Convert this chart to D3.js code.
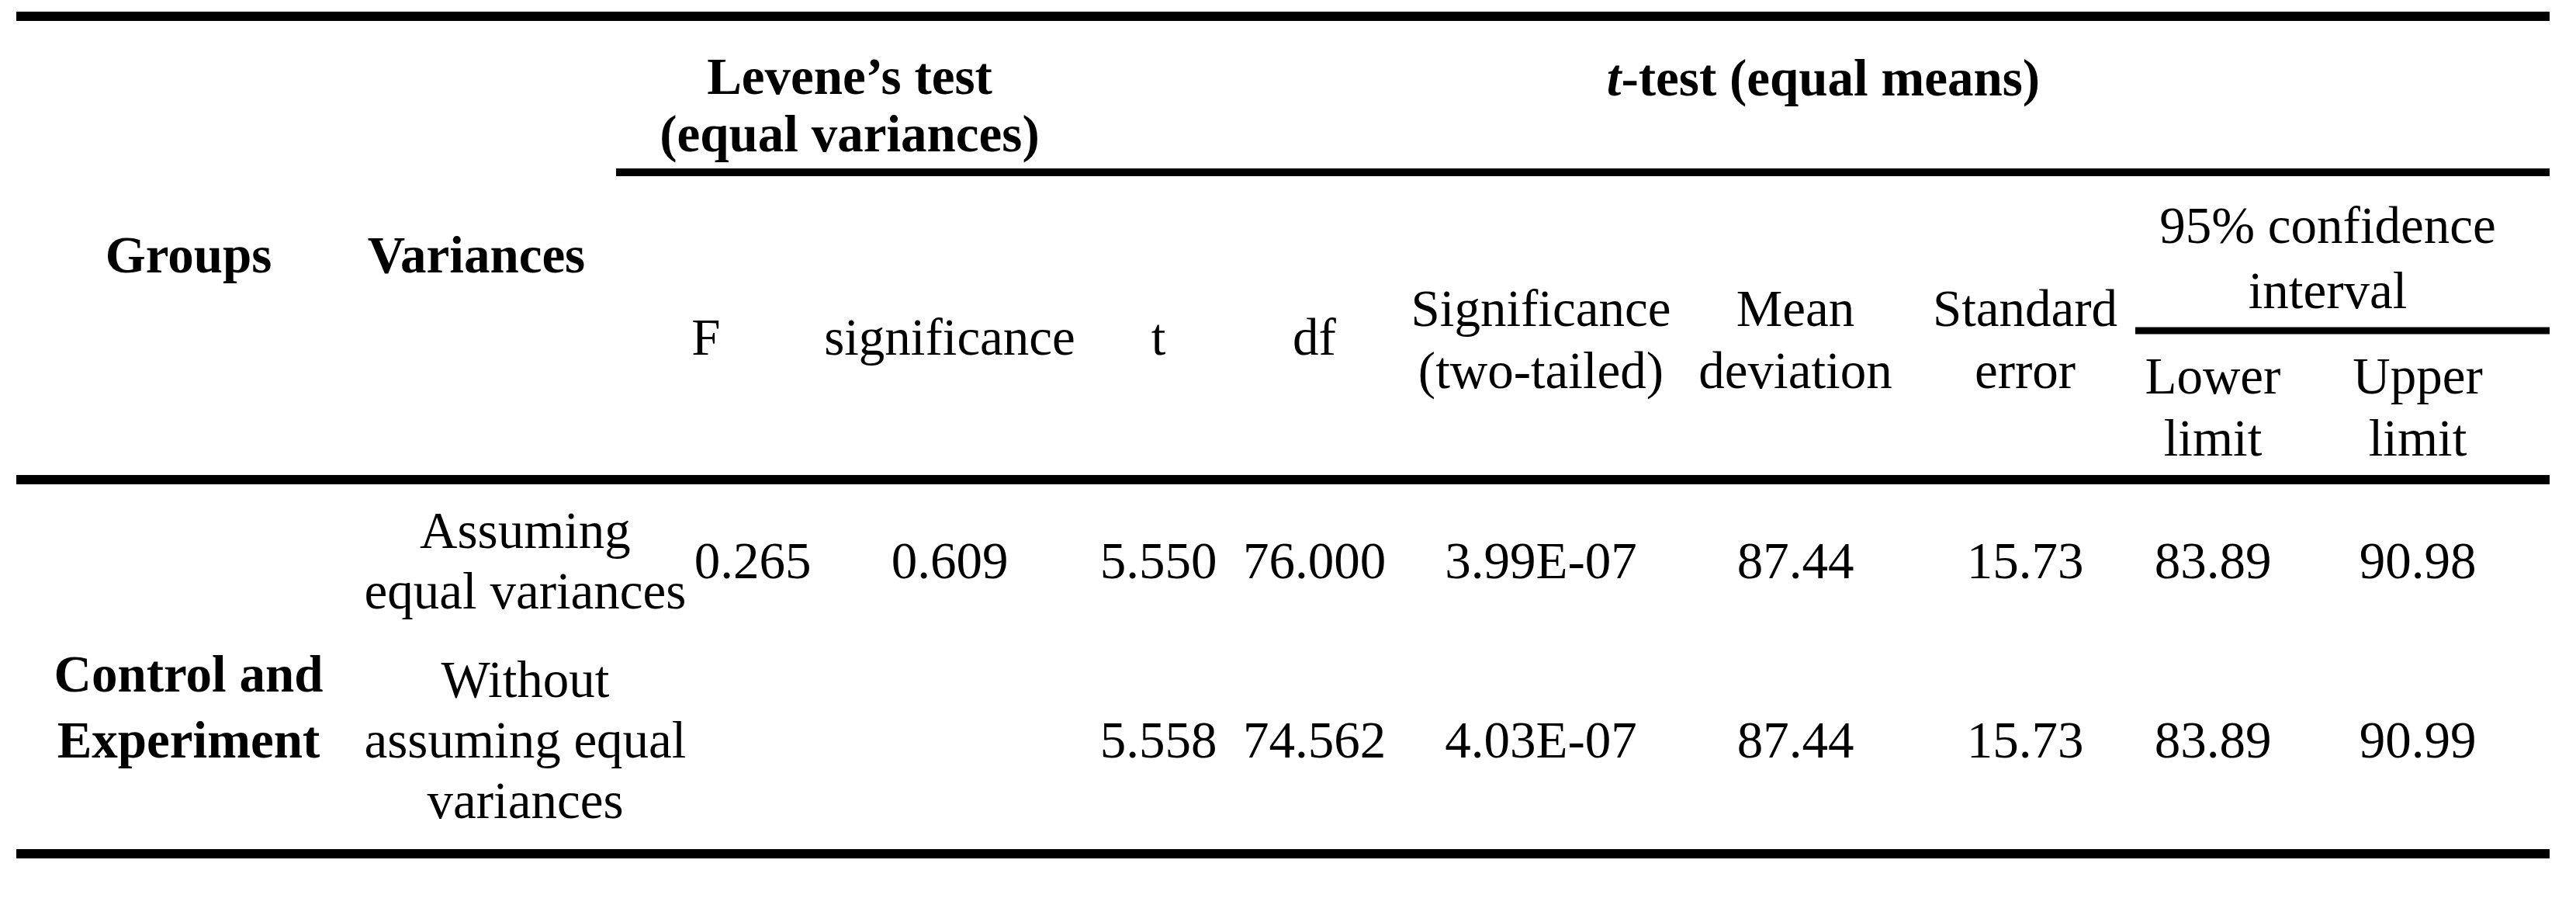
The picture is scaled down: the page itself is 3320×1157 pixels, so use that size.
<!doctype html>
<html lang="en">
<head>
<meta charset="UTF-8" />
<title>Levene and t-test table</title>
<script src="https://d3js.org/d3.v7.min.js"></script>
<style>
  html, body { margin: 0; padding: 0; background: #fff; }
  svg { display: block; }
  text { font-family: "Liberation Serif", "Times New Roman", serif; fill: #000; }
</style>
</head>
<body>
<svg id="chart"></svg>
<script>
  const W = 3320, H = 1157;
  const fs = 67;

  // column keys and header lines
  const columns = ["F", "sig", "t", "df", "sig2", "mean", "se", "lower", "upper"];
  const columnHeaders = [
    ["F"], ["significance"], ["t"], ["df"],
    ["Significance", "(two-tailed)"], ["Mean", "deviation"],
    ["Standard", "error"], ["Lower", "limit"], ["Upper", "limit"]
  ];
  const rowLabels = [["Assuming", "equal variances"], ["Without", "assuming equal", "variances"]];
  const groupLabel = ["Control and", "Experiment"];
  const rowValues = [
    ["0.265", "0.609", "5.550", "76.000", "3.99E-07", "87.44", "15.73", "83.89", "90.98"],
    ["", "", "5.558", "74.562", "4.03E-07", "87.44", "15.73", "83.89", "90.99"]
  ];

  const svg = d3.select("#chart").attr("width", W).attr("height", H);

  // column centres
  const colX = d3.scaleOrdinal().domain(columns)
    .range([910, 1224, 1493, 1694, 1986, 2314, 2610, 2852, 3116]);
  const valX = d3.scaleOrdinal().domain(columns)
    .range([970, 1224, 1493, 1694, 1986, 2314, 2610, 2852, 3116]);

  function lines(x, yc, arr, bold, lh) {
    lh = lh || 78;
    const y0 = yc - (arr.length - 1) * lh / 2;
    arr.forEach((s, i) => {
      svg.append("text").attr("x", x).attr("y", y0 + i * lh)
        .attr("text-anchor", "middle").attr("dominant-baseline", "central")
        .attr("font-size", fs).attr("font-weight", bold ? "bold" : "normal")
        .text(s);
    });
  }
  function rule(x1, x2, y, w) {
    svg.append("rect").attr("x", x1).attr("y", y - w / 2)
      .attr("width", x2 - x1).attr("height", w).attr("fill", "#000");
  }

  rule(21, 3286, 21, 12);
  rule(794, 3286, 222, 10);
  rule(2752, 3286, 426, 9);
  rule(21, 3286, 618, 12);
  rule(21, 3286, 1100, 12);

  // top header
  lines(1095, 135, ["Levene\u2019s test", "(equal variances)"], true, 74);
  const tt = svg.append("text").attr("x", 2350).attr("y", 100)
    .attr("text-anchor", "middle").attr("dominant-baseline", "central")
    .attr("font-size", fs).attr("font-weight", "bold");
  tt.append("tspan").attr("font-style", "italic").text("t");
  tt.append("tspan").text("-test (equal means)");

  lines(243, 328, ["Groups"], true);
  lines(614, 328, ["Variances"], true);
  lines(3000, 332, ["95% confidence", "interval"], false, 84);

  columns.forEach((c, i) => {
    const h = columnHeaders[i];
    const yc = (c === "lower" || c === "upper") ? 524 : (h.length > 1 ? 437 : 434);
    lines(colX(c), yc, h, false, 80);
  });

  // body
  lines(243, 910, groupLabel, true, 85);
  const rowY = [722, 953];
  rowLabels.forEach((lab, r) => lines(677, rowY[r], lab, false, 78));
  rowValues.forEach((vals, r) => {
    vals.forEach((v, i) => { if (v) lines(valX(columns[i]), rowY[r], [v], false); });
  });
</script>
</body>
</html>
